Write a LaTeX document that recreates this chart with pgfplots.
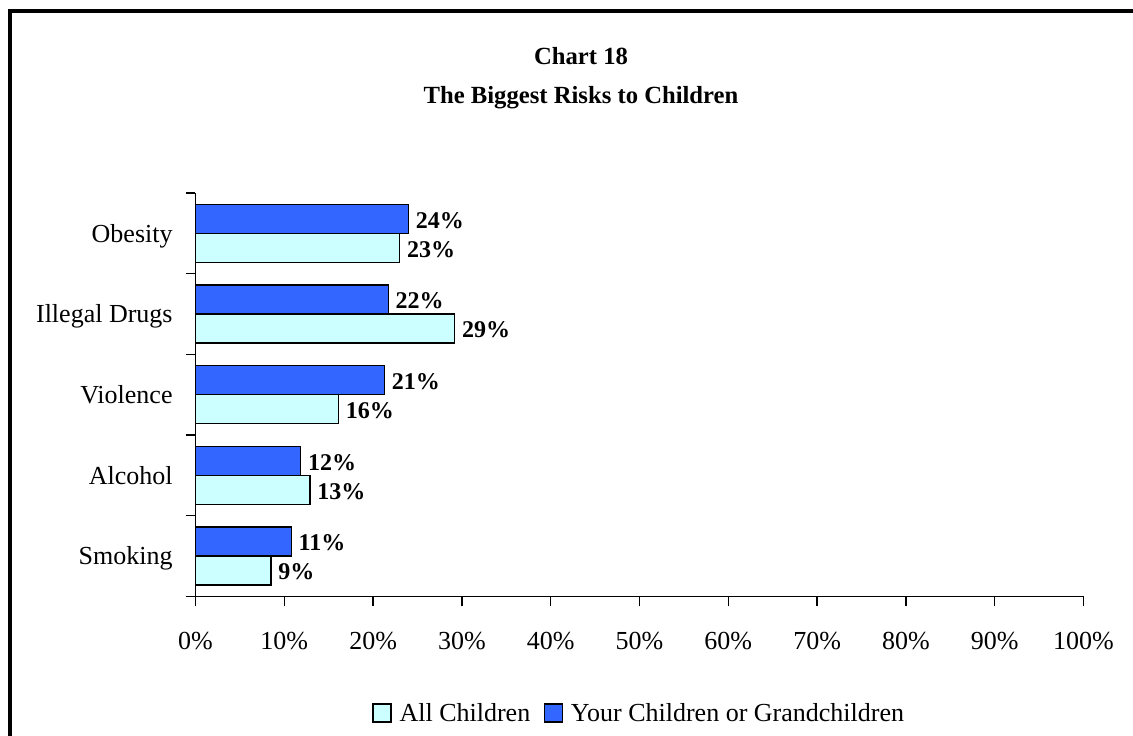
\documentclass[border=0pt]{standalone}
\usepackage{fontspec}
\setmainfont{Liberation Serif}
\usepackage{pgfplots}
\pgfplotsset{compat=1.18}
\definecolor{cyanbar}{HTML}{CCFFFF}
\definecolor{bluebar}{HTML}{3366FF}
\begin{document}
\begin{tikzpicture}[x=0.75pt,y=0.75pt]
\path[use as bounding box] (0,0) rectangle (1133,736);
\draw[line width=3pt] (10,0) -- (10,725) -- (1133,725);
\node[font=\bfseries\fontsize{18.5}{22}\selectfont, anchor=base] at (581,671) {Chart 18};
\node[font=\bfseries\fontsize{18.5}{22}\selectfont, anchor=base] at (581,632) {The Biggest Risks to Children};
\begin{axis}[
  at={(146.625pt,104.625pt)}, anchor=south west, scale only axis,
  width=666pt, height=302.6pt,
  xbar, bar width=21.75pt,
  xmin=0, xmax=100, ymin=-0.5, ymax=4.5, enlargelimits=false,
  clip=false,
  axis lines*=left,
  axis line style={line width=1pt},
  every tick/.style={black, line width=1pt},
  tick align=outside,
  major tick length=7.5pt,
  xtick={0,10,...,100},
  xticklabel={\pgfmathprintnumber{\tick}\%},
  /pgf/number format/assume math mode=true,
  xticklabel style={font=\fontsize{19.5}{22}\selectfont, anchor=base, yshift=-32pt},
  ytick={-0.5,0.5,...,4.5},
  yticklabels={},
  extra y ticks={0,1,2,3,4},
  extra y tick labels={Smoking,Alcohol,Violence,Illegal Drugs,Obesity},
  extra y tick style={major tick length=0pt, yticklabel style={font=\fontsize{19.5}{22}\selectfont, anchor=base east, inner sep=0pt, xshift=-17pt, yshift=-6.5pt}},
  nodes near coords,
  point meta=explicit symbolic,
  every node near coord/.append style={font=\bfseries\fontsize{18}{20}\selectfont, anchor=west, inner sep=0pt, xshift=5pt, yshift=-1pt, text=black},
  legend style={at={(0.5,-0.289)}, anchor=center, draw=none, fill=none, font=\fontsize{19.5}{22}\selectfont, legend columns=2,
    /tikz/every odd column/.append style={column sep=4pt},
    /tikz/every even column/.append style={column sep=8pt}},
  sqleg/.style={legend image code/.code={\draw[##1, line width=1pt] (0pt,-6.75pt) rectangle (13.5pt,6.75pt);}},
]
\addplot[fill=cyanbar, draw=black, line width=1pt, bar shift=-10.875pt, sqleg] coordinates {
  (8.5,0) [9\%]
  (12.9,1) [13\%]
  (16.1,2) [16\%]
  (29.2,3) [29\%]
  (23.0,4) [23\%]
};
\addlegendentry{All Children}
\addplot[fill=bluebar, draw=black, line width=1pt, bar shift=10.875pt, sqleg] coordinates {
  (10.8,0) [11\%]
  (11.85,1) [12\%]
  (21.3,2) [21\%]
  (21.7,3) [22\%]
  (24.0,4) [24\%]
};
\addlegendentry{Your Children or Grandchildren}
\end{axis}
\end{tikzpicture}
\end{document}
